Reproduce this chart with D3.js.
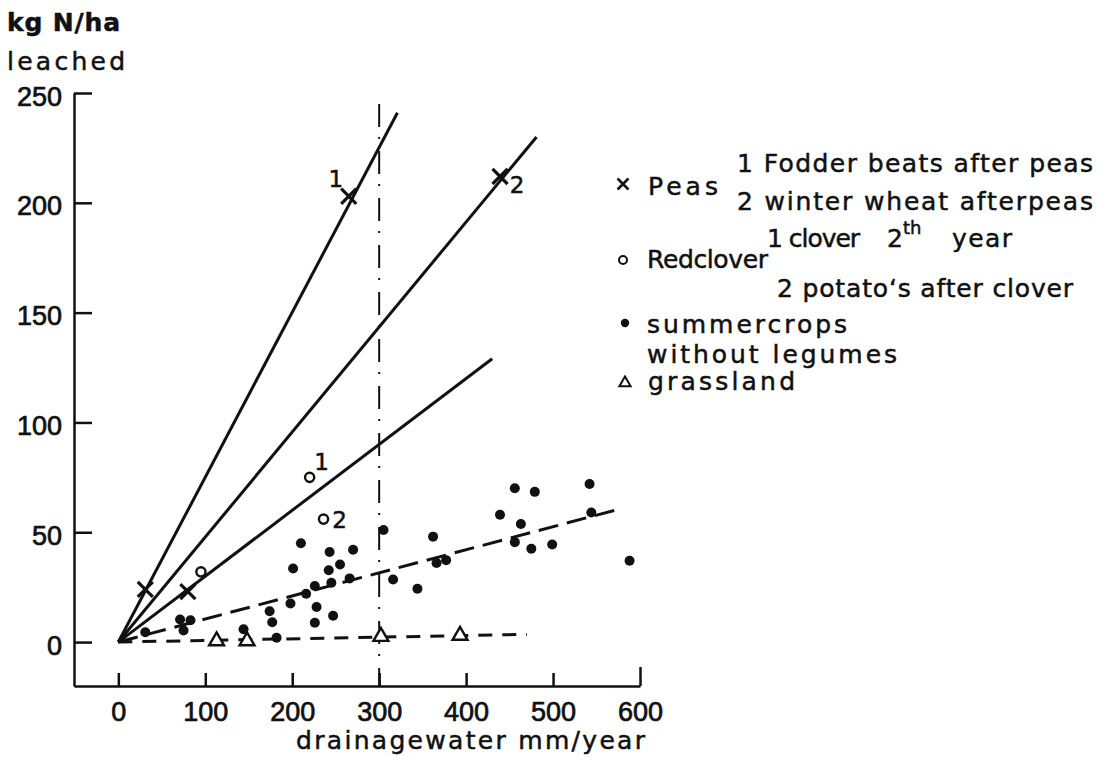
<!DOCTYPE html>
<html>
<head>
<meta charset="utf-8">
<script src="https://cdn.jsdelivr.net/npm/d3@7"></script>
<style>
  body { margin: 0; background: #fff; }
  svg { display: block; }
  text { font-family: "DejaVu Sans", sans-serif; font-size: 25px; fill: #111; stroke: #111; stroke-width: 0.5px; }
  .axis text { font-family: "Liberation Sans", sans-serif; font-size: 27px; fill: #111; stroke: #111; stroke-width: 0.7px; }
  .axis path, .axis line { stroke: #111; stroke-width: 2.5; }
</style>
</head>
<body>
<svg width="1114" height="761"></svg>
<script>
// Values (x = drainage water mm/year, y = kg N/ha leached)
var xTicks = [0, 100, 200, 300, 400, 500, 600];
var yTicks = [0, 50, 100, 150, 200, 250];

var peas = [[31, 24], [80, 23], [265, 203], [439, 212]];
var redclover = [[95, 32], [220, 75], [236, 56]];
var summercrops = [
  [31, 4.5], [71, 10.3], [83, 9.9], [75, 5.3], [144, 5.8], [182, 2], [174, 14], [177, 9],
  [198, 17.6], [216, 22], [226, 25.5], [228, 16], [226, 8.8], [247, 12], [245, 27], [266, 29],
  [201, 33.5], [210, 45], [243, 41], [270, 42], [242, 32.7], [255, 35.3], [305, 51], [316, 28.5],
  [344, 24.3], [362, 48], [366, 36], [377, 37.3], [456, 70], [479, 68.4], [439, 58], [463, 53.8],
  [456, 45.5], [475, 42.5], [499, 44.4], [542, 72], [544, 59], [588, 37]
];
var grassland = [[113, 0.5], [148, 0.5], [302, 2.5], [393, 3]];

// drawn regression lines, start and end
var fodderLine = [[0, 0], [321, 241]];
var wheatLine = [[0, 0], [481, 230]];
var cloverLine = [[0, 0], [430, 129]];
var summerLine = [[0, 0], [571, 60]];
var grassLine = [[0, 0], [470, 3.5]];
var refLine = [[300, 245], [300, -20]];

var svg = d3.select("svg"),
    x = d3.scaleLinear().domain([-51, 600]).range([74, 640]),
    y = d3.scaleLinear().domain([-20, 250]).range([686, 93]),
    ink = "#111";

// Axes
var xAxis = svg.append("g")
  .attr("class", "axis")
  .attr("transform", "translate(0," + y(-20) + ")")
  .call(d3.axisBottom(x).tickValues(xTicks).tickSizeInner(-13).tickSizeOuter(0).tickPadding(16));
xAxis.selectAll(".tick line").filter(function(d) { return d === 600; }).attr("y2", -19);

svg.append("g")
  .attr("class", "axis")
  .attr("transform", "translate(" + x(-51) + ",0)")
  .call(d3.axisLeft(y).tickValues(yTicks).tickSizeInner(-18).tickSizeOuter(0).tickPadding(12))
  .selectAll("text").attr("dy", "0.45em");

// Axis titles
svg.append("text").attr("x", 7).attr("y", 31).attr("font-weight", "bold")
  .attr("textLength", 113).attr("lengthAdjust", "spacing").text("kg N/ha");
svg.append("text").attr("x", 7).attr("y", 70)
  .attr("textLength", 118).attr("lengthAdjust", "spacing").text("leached");
svg.append("text").attr("x", 296).attr("y", 749)
  .attr("textLength", 349).attr("lengthAdjust", "spacing").text("drainagewater mm/year");

// Lines
var line = d3.line().x(function(d) { return x(d[0]); }).y(function(d) { return y(d[1]); });
[fodderLine, wheatLine, cloverLine].forEach(function(l) {
  svg.append("path").attr("d", line(l)).attr("fill", "none")
    .attr("stroke", ink).attr("stroke-width", 3);
});
svg.append("path").attr("d", line(summerLine)).attr("fill", "none")
  .attr("stroke", ink).attr("stroke-width", 3).attr("stroke-dasharray", "20,9");
svg.append("path").attr("d", line(grassLine)).attr("fill", "none")
  .attr("stroke", ink).attr("stroke-width", 3).attr("stroke-dasharray", "14,10");
svg.append("path").attr("d", line(refLine)).attr("fill", "none")
  .attr("stroke", ink).attr("stroke-width", 2).attr("stroke-dasharray", "23,10,2,12");

// Points
function pos(d) { return "translate(" + x(d[0]) + "," + y(d[1]) + ")"; }

svg.selectAll(".summer").data(summercrops).enter().append("circle")
  .attr("class", "summer")
  .attr("cx", function(d) { return x(d[0]); })
  .attr("cy", function(d) { return y(d[1]); })
  .attr("r", 5).attr("fill", ink);

svg.selectAll(".peas").data(peas).enter().append("path")
  .attr("class", "peas").attr("transform", pos)
  .attr("d", d3.symbol(d3.symbolTimes, 150))
  .attr("fill", "none").attr("stroke", ink).attr("stroke-width", 3.2);

svg.selectAll(".clover").data(redclover).enter().append("circle")
  .attr("class", "clover")
  .attr("cx", function(d) { return x(d[0]); })
  .attr("cy", function(d) { return y(d[1]); })
  .attr("r", 4.6).attr("fill", "#fff").attr("stroke", ink).attr("stroke-width", 2.4);

svg.selectAll(".grass").data(grassland).enter().append("path")
  .attr("class", "grass").attr("transform", pos)
  .attr("d", d3.symbol(d3.symbolTriangle2, 160))
  .attr("fill", "#fff").attr("stroke", ink).attr("stroke-width", 2.4);

// Point numbers
function num(d, txt, dx, dy) {
  svg.append("text").attr("x", x(d[0]) + dx).attr("y", y(d[1]) + dy)
    .attr("text-anchor", "middle").style("font-size", "23px").text(txt);
}
num(peas[2], "1", -13, -9);
num(peas[3], "2", 17, 17);
num(redclover[1], "1", 12, -7);
num(redclover[2], "2", 16, 9);

// Legend
var legend = svg.append("g");
function ltext(str, x0, y0, w) {
  var t = legend.append("text").attr("x", x0).attr("y", y0).text(str);
  if (w) t.attr("textLength", w).attr("lengthAdjust", "spacing");
  return t;
}
legend.append("path").attr("transform", "translate(623,184)")
  .attr("d", d3.symbol(d3.symbolTimes, 80))
  .attr("fill", "none").attr("stroke", ink).attr("stroke-width", 2.6);
ltext("Peas", 648, 195, 70);
ltext("1 Fodder beats after peas", 737, 172, 356);
ltext("2 winter wheat afterpeas", 737, 210, 356);

legend.append("circle").attr("cx", 623).attr("cy", 260).attr("r", 4)
  .attr("fill", "#fff").attr("stroke", ink).attr("stroke-width", 2);
ltext("Redclover", 647, 268, 121);
ltext("1 clover", 767, 247, 93);
ltext("2", 887, 247);
ltext("th", 903, 234).style("font-size", "18px");
ltext("year", 952, 247, 60);
ltext("2 potato\u2018s after clover", 777, 297, 296);

legend.append("circle").attr("cx", 625).attr("cy", 323).attr("r", 4.2).attr("fill", ink);
ltext("summercrops", 647, 333, 200);
ltext("without legumes", 647, 363, 250);

legend.append("path").attr("transform", "translate(625,383)")
  .attr("d", d3.symbol(d3.symbolTriangle2, 90))
  .attr("fill", "none").attr("stroke", ink).attr("stroke-width", 2);
ltext("grassland", 648, 390, 147);
</script>
</body>
</html>
